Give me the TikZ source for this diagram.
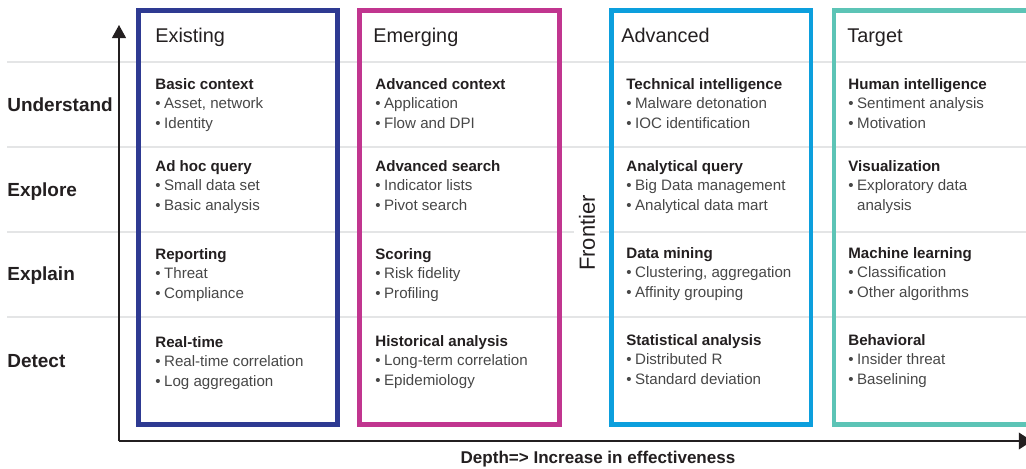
\documentclass[tikz,border=0pt]{standalone}
\usepackage{fontspec}
\setmainfont{Liberation Sans}
\usepackage{xcolor}
\usetikzlibrary{arrows.meta}

\definecolor{existing}{HTML}{2E3A92}
\definecolor{emerging}{HTML}{C1358F}
\definecolor{advanced}{HTML}{0C9FDD}
\definecolor{target}{HTML}{5CC4B6}
\definecolor{ink}{HTML}{231F20}
\definecolor{soft}{HTML}{474747}
\definecolor{rule}{HTML}{E4E5E6}

\newcommand{\bul}{•\kern2pt}
\newcommand{\bulgap}{\hphantom{•}\kern2pt}
\newcommand{\ttl}[1]{{\bfseries\color{ink}#1}}

\tikzstyle{colbox} = [line width=2.8pt]
\tikzstyle{grid} = [draw=rule, line width=1.1pt]
\tikzstyle{head} = [anchor=base west, inner sep=0, text=ink, font=\fontsize{11.3}{13}\selectfont]
\tikzstyle{cell} = [anchor=north west, inner sep=0, align=left, text=soft, font=\fontsize{8.6}{11.1}\selectfont]
\tikzstyle{level} = [anchor=base west, inner sep=0, text=ink, font=\bfseries\fontsize{10.8}{13}\selectfont]
\tikzstyle{axis} = [draw=ink, line width=0.85pt, -{Triangle[length=7.5pt,width=8pt]}]

\begin{document}
\begin{tikzpicture}[x=0.02cm, y=-0.02cm]

\useasboundingbox (0,0) rectangle (1026,469);

% Grid
\draw[grid] (7,62) -- (1026,62);
\draw[grid] (7,147) -- (1026,147);
\draw[grid] (7,232) -- (1026,232);
\draw[grid] (7,317) -- (1026,317);

% Columns
\draw[colbox, existing] (138.5,10.5) rectangle (337.5,424.5);
\draw[colbox, emerging] (359.5,10.5) rectangle (559.5,424.5);
\draw[colbox, advanced] (611.5,10.5) rectangle (811,424.5);
\draw[colbox, target] (834,10.5) rectangle (1040,424.5);

% Headers
\node[head] (hExist) at (155,43) {Existing};
\node[head] (hEmerg) at (373,43) {Emerging};
\node[head] (hAdv) at (621,43) {Advanced};
\node[head] (hTarget) at (847,43) {Target};

% Levels
\node[level] (Understand) at (7,112) {Understand};
\node[level] (Explore) at (7,197) {Explore};
\node[level] (Explain) at (7,280) {Explain};
\node[level] (Detect) at (7,367) {Detect};

% Existing
\node[cell] (ex1) at (155,78) {\ttl{Basic context}\\\bul Asset, network\\\bul Identity};
\node[cell] (ex2) at (155,160) {\ttl{Ad hoc query}\\\bul Small data set\\\bul Basic analysis};
\node[cell] (ex3) at (155,248) {\ttl{Reporting}\\\bul Threat\\\bul Compliance};
\node[cell] (ex4) at (155,336) {\ttl{Real-time}\\\bul Real-time correlation\\\bul Log aggregation};

% Emerging
\node[cell] (em1) at (375,78) {\ttl{Advanced context}\\\bul Application\\\bul Flow and DPI};
\node[cell] (em2) at (375,160) {\ttl{Advanced search}\\\bul Indicator lists\\\bul Pivot search};
\node[cell] (em3) at (375,248) {\ttl{Scoring}\\\bul Risk fidelity\\\bul Profiling};
\node[cell] (em4) at (375,335) {\ttl{Historical analysis}\\\bul Long-term correlation\\\bul Epidemiology};

% Advanced
\node[cell] (ad1) at (626,78) {\ttl{Technical intelligence}\\\bul Malware detonation\\\bul IOC identification};
\node[cell] (ad2) at (626,160) {\ttl{Analytical query}\\\bul Big Data management\\\bul Analytical data mart};
\node[cell] (ad3) at (626,247) {\ttl{Data mining}\\\bul Clustering, aggregation\\\bul Affinity grouping};
\node[cell] (ad4) at (626,334) {\ttl{Statistical analysis}\\\bul Distributed R\\\bul Standard deviation};

% Target
\node[cell] (ta1) at (848,78) {\ttl{Human intelligence}\\\bul Sentiment analysis\\\bul Motivation};
\node[cell] (ta2) at (848,160) {\ttl{Visualization}\\\bul Exploratory data\\\bulgap analysis};
\node[cell] (ta3) at (848,247) {\ttl{Machine learning}\\\bul Classification\\\bul Other algorithms};
\node[cell] (ta4) at (848,334) {\ttl{Behavioral}\\\bul Insider threat\\\bul Baselining};

\node[rotate=90, fill=white, inner sep=3pt, text=ink, font=\fontsize{12.5}{14}\selectfont] (frontier) at (587,233) {Frontier};

% Axes
\coordinate (origin) at (119,441);
\coordinate (ytop) at (119,25);
\coordinate (xend) at (1032,441);
\draw[axis] (origin) -- (ytop);
\draw[axis, -{Triangle[length=7.5pt,width=9.5pt]}] (origin) -- (xend);

\node[anchor=base, inner sep=0, text=ink, font=\bfseries\fontsize{9.7}{12}\selectfont] (depth) at (598,463) {Depth=> Increase in effectiveness};

\end{tikzpicture}
\end{document}
